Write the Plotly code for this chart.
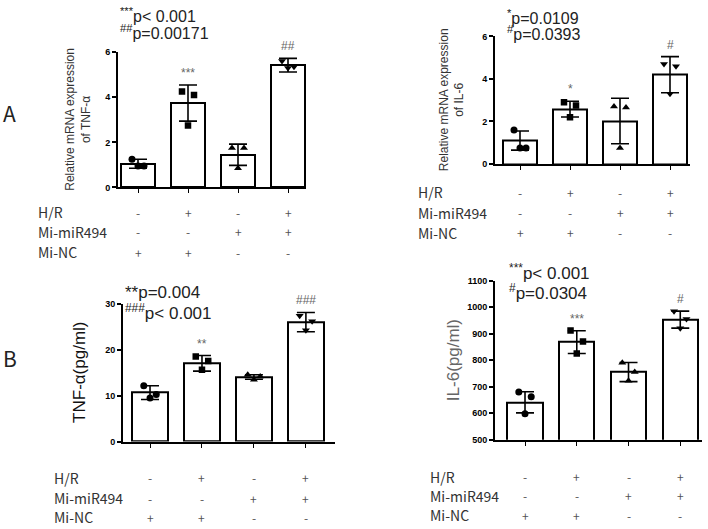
# -*- coding: utf-8 -*-
"""
Bar charts: TNF-a / IL-6 mRNA (A) and protein (B) under H/R and Mi-miR494.
"""
import plotly.graph_objects as go

W, H = 708, 529

# ---- data -----------------------------------------------------------------
groups = [0, 1, 2, 3]
row_labels = ["H/R", "Mi-miR494", "Mi-NC"]
row_signs = [["-", "+", "-", "+"],
             ["-", "-", "+", "+"],
             ["+", "+", "-", "-"]]

# A, left: relative mRNA expression of TNF-a
tnf_mrna_mean = [1.05, 3.74, 1.45, 5.42]
tnf_mrna_sd = [0.20, 0.80, 0.47, 0.30]
tnf_mrna_pts = [[1.25, 0.95, 0.95], [4.25, 4.10, 2.75],
                [1.75, 1.75, 0.85], [5.60, 5.35, 5.30]]
tnf_mrna_sig = ["", "***", "", "##"]
tnf_mrna_p = ["<sup>***</sup>p< 0.001", "<sup>##</sup>p=0.00171"]

# A, right: relative mRNA expression of IL-6
il6_mrna_mean = [1.10, 2.58, 2.02, 4.20]
il6_mrna_sd = [0.45, 0.37, 1.07, 0.85]
il6_mrna_pts = [[1.60, 0.75, 0.75], [2.90, 2.75, 2.20],
                [2.70, 2.65, 0.75], [4.70, 4.60, 3.30]]
il6_mrna_sig = ["", "*", "", "#"]
il6_mrna_p = ["<sup>*</sup>p=0.0109", "<sup>#</sup>p=0.0393"]

# B, left: TNF-a (pg/ml)
tnf_pg_mean = [10.7, 17.1, 14.1, 26.1]
tnf_pg_sd = [1.5, 1.7, 0.5, 2.1]
tnf_pg_pts = [[12.2, 10.3, 9.5], [18.6, 17.6, 15.7],
              [14.6, 14.2, 13.5], [27.5, 26.3, 24.3]]
tnf_pg_sig = ["", "**", "", "###"]
tnf_pg_p = ["**p=0.004", "<sup>###</sup>p< 0.001"]

# B, right: IL-6 (pg/ml)
il6_pg_mean = [641, 868, 755, 953]
il6_pg_sd = [40, 43, 36, 32]
il6_pg_pts = [[680, 662, 598], [912, 870, 825],
              [790, 755, 722], [985, 955, 920]]
il6_pg_sig = ["", "***", "", "#"]
il6_pg_p = ["<sup>***</sup>p< 0.001", "<sup>#</sup>p=0.0304"]

# ---- layout helpers ---------------------------------------------------------
SYMBOLS = ["circle", "square", "triangle-up", "triangle-down"]
JITTER = [-0.12, 0.12, 0.0]
LABEL_FONT = "Noto Sans CJK SC"
TEXT_FONT = "Liberation Sans, Arial, sans-serif"


def fx(p):
    return p / W


def fy(p):
    return 1 - p / H


panels = [
    dict(mean=tnf_mrna_mean, sd=tnf_mrna_sd, pts=tnf_mrna_pts, sig=tnf_mrna_sig,
         p=tnf_mrna_p, xpx=(118, 306), xr=[-0.40, 3.36], ypx=(186, 48), yr=[0, 6],
         ticks=[0, 2, 4, 6], p_left=118, p_rows=(10, 28), p_size=16,
         title="Relative mRNA expression<br>of TNF-α", title_x=78, title_size=12,
         title_color="#333", tab_left=36, tab_rows=(211, 231, 252)),
    dict(mean=il6_mrna_mean, sd=il6_mrna_sd, pts=il6_mrna_pts, sig=il6_mrna_sig,
         p=il6_mrna_p, xpx=(495, 690), xr=[-0.5, 3.4], ypx=(162, 32), yr=[0, 6],
         ticks=[0, 2, 4, 6], p_left=505, p_rows=(12, 29), p_size=16,
         title="Relative mRNA expression<br>of IL-6", title_x=452, title_size=12,
         title_color="#333", tab_left=416, tab_rows=(191, 212, 232)),
    dict(mean=tnf_pg_mean, sd=tnf_pg_sd, pts=tnf_pg_pts, sig=tnf_pg_sig,
         p=tnf_pg_p, xpx=(123, 335), xr=[-0.52, 3.56], ypx=(445, 305), yr=[0, 30],
         ticks=[0, 10, 20, 30], p_left=123, p_rows=(293, 313), p_size=17,
         title="TNF-α(pg/ml)", title_x=80, title_size=17,
         title_color="#111", tab_left=52, tab_rows=(482, 503, 522)),
    dict(mean=il6_pg_mean, sd=il6_pg_sd, pts=il6_pg_pts, sig=il6_pg_sig,
         p=il6_pg_p, xpx=(495, 702), xr=[-0.58, 3.42], ypx=(443, 281), yr=[500, 1100],
         ticks=[500, 600, 700, 800, 900, 1000, 1100], p_left=507, p_rows=(272, 293),
         p_size=17, title="IL-6(pg/ml)", title_x=453, title_size=17,
         title_color="#666", tab_left=428, tab_rows=(481, 500, 520)),
]

fig = go.Figure()
annotations = []
layout = {}

for k, pn in enumerate(panels):
    n = "" if k == 0 else str(k + 1)
    xa, ya = "x" + n, "y" + n

    fig.add_trace(go.Bar(
        x=groups, y=pn["mean"], width=0.68, xaxis=xa, yaxis=ya,
        marker=dict(color="white", line=dict(color="black", width=2)),
        error_y=dict(type="data", array=pn["sd"], color="black",
                     thickness=1.6, width=9),
        hoverinfo="skip", showlegend=False))

    for g in groups:
        fig.add_trace(go.Scatter(
            x=[g + j for j in JITTER], y=pn["pts"][g], mode="markers",
            xaxis=xa, yaxis=ya, showlegend=False, hoverinfo="skip",
            marker=dict(symbol=SYMBOLS[g], color="black",
                        size=7 if g != 1 else 6.5)))

    layout["xaxis" + n] = dict(
        domain=[fx(pn["xpx"][0]), fx(pn["xpx"][1])], range=pn["xr"],
        anchor=ya, showline=True, linecolor="black", linewidth=2,
        tickvals=groups, showticklabels=False, ticks="outside",
        ticklen=4, tickwidth=1, tickcolor="black", showgrid=False,
        zeroline=False, fixedrange=True)
    layout["yaxis" + n] = dict(
        domain=[fy(pn["ypx"][0]), fy(pn["ypx"][1])], range=pn["yr"],
        anchor=xa, showline=True, linecolor="black", linewidth=2,
        tickvals=pn["ticks"], ticks="outside", ticklen=4, tickwidth=2,
        tickcolor="black", showgrid=False, zeroline=False,
        tickfont=dict(family="Liberation Sans Narrow, Liberation Sans",
                      size=9, color="black", weight="bold"))

    # significance marks above error bars
    for g in groups:
        if pn["sig"][g]:
            annotations.append(dict(
                x=g, y=pn["mean"][g] + pn["sd"][g], xref=xa, yref=ya,
                text=pn["sig"][g], showarrow=False, yanchor="bottom", yshift=3,
                font=dict(family=TEXT_FONT, size=12, color="#666")))

    # p-value text
    for txt, row in zip(pn["p"], pn["p_rows"]):
        annotations.append(dict(
            x=fx(pn["p_left"]), y=fy(row), xref="paper", yref="paper",
            text=txt, showarrow=False, xanchor="left", yanchor="middle",
            font=dict(family=TEXT_FONT, size=pn["p_size"], color="#222")))

    # y-axis title
    annotations.append(dict(
        x=fx(pn["title_x"]), y=(fy(pn["ypx"][0]) + fy(pn["ypx"][1])) / 2,
        xref="paper", yref="paper", text=pn["title"], textangle=-90,
        showarrow=False, xanchor="center", yanchor="middle",
        font=dict(family=TEXT_FONT, size=pn["title_size"],
                  color=pn["title_color"])))

    # condition table
    for label, signs, row in zip(row_labels, row_signs, pn["tab_rows"]):
        annotations.append(dict(
            x=fx(pn["tab_left"]), y=fy(row), xref="paper", yref="paper",
            text=label, showarrow=False, xanchor="left", yanchor="middle",
            font=dict(family=LABEL_FONT, size=14, color="#333")))
        for g in groups:
            annotations.append(dict(
                x=g, y=fy(row), xref=xa, yref="paper", text=signs[g],
                showarrow=False, xanchor="center", yanchor="middle",
                font=dict(family=LABEL_FONT, size=12, color="#555")))

# panel letters
for letter, px_, py_ in [("A", 9, 110), ("B", 10, 360)]:
    annotations.append(dict(
        x=fx(px_), y=fy(py_), xref="paper", yref="paper", text=letter,
        showarrow=False, xanchor="center", yanchor="middle",
        font=dict(family=LABEL_FONT, size=21, color="#222")))

fig.update_layout(
    width=W, height=H, margin=dict(l=0, r=0, t=0, b=0),
    paper_bgcolor="white", plot_bgcolor="white",
    annotations=annotations, bargap=0, **layout)

# page body has an 8px default margin; drop it so the figure fills the window
fig.write_html("out.html", config={"displayModeBar": False},
               post_script="document.body.style.margin='0';")
